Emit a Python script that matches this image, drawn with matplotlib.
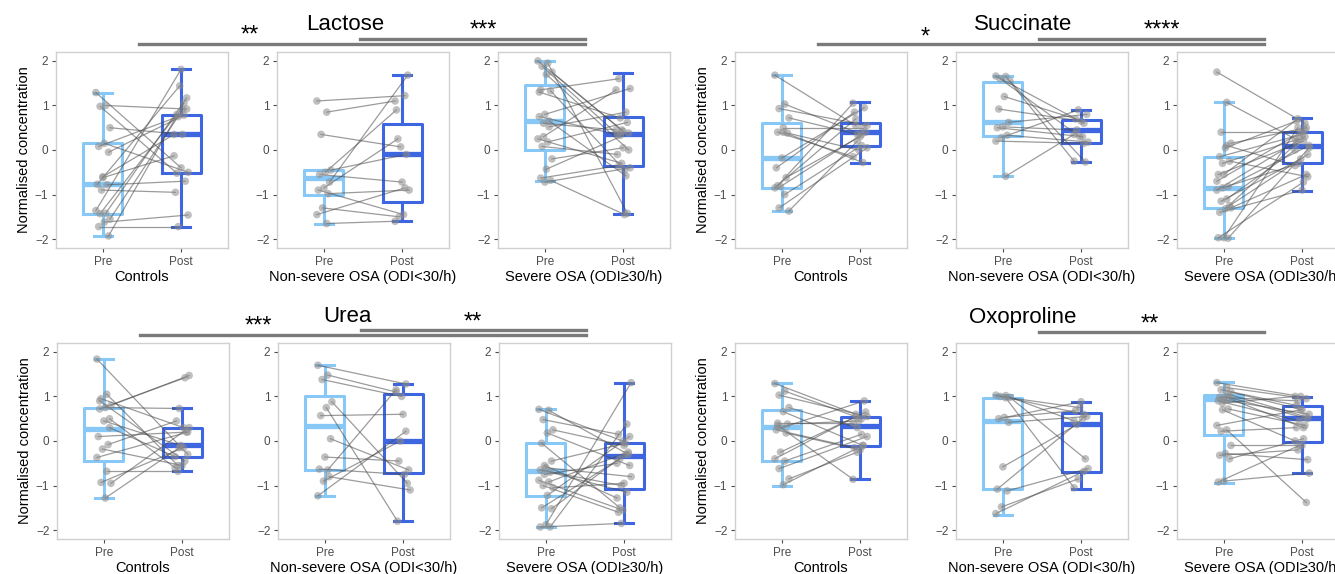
import numpy as np
import matplotlib.pyplot as plt
from matplotlib.lines import Line2D

plt.rcParams['font.family'] = ['Liberation Sans', 'DejaVu Sans']

W, H = 1335, 574

groups = ["Controls", "Non-severe OSA (ODI<30/h)", "Severe OSA (ODI≥30/h)"]
timepoints = ["Pre", "Post"]
metabolites = ["Lactose", "Succinate", "Urea", "Oxoproline"]

# paired values (pre[i] -> post[i]); box stats: [whisker low, q1, median, q3, whisker high]
lac_ctrl_pre = [1.29, 1.00, 0.98, 0.50, 0.15, 0.08, -0.05, -0.60, -0.77, -0.78, -0.90, -1.36, -1.42, -1.43, -1.55, -1.62, -1.72, -1.93, -0.62]
lac_ctrl_post = [-0.40, 0.92, -0.52, 0.35, -0.50, 0.75, 0.78, 0.35, 1.44, -0.70, -0.95, 1.81, 1.17, 0.80, 0.90, -1.46, -1.72, 1.05, -0.13]
lac_ctrl_box = [[-1.93, -1.43, -0.77, 0.15, 1.29], [-1.72, -0.51, 0.35, 0.78, 1.81]]

lac_nons_pre = [1.10, 0.85, 0.35, -0.45, -0.50, -0.55, -0.72, -0.85, -0.90, -0.98, -1.30, -1.45, -1.65]
lac_nons_post = [1.22, 1.10, 0.07, -0.10, 0.90, -0.72, 1.68, 0.25, -1.45, -0.90, -1.50, -0.85, -1.60]
lac_nons_box = [[-1.65, -1.00, -0.63, -0.45, -0.45], [-1.60, -1.16, -0.10, 0.59, 1.68]]

lac_sev_pre = [2.00, 1.95, 1.88, 1.75, 1.70, 1.35, 1.33, 0.80, 0.75, 0.52, 0.30, 0.25, 0.18, 0.08, -0.20, -0.43, -0.63, -0.68, -0.72, 1.30, 0.65, 0.60]
lac_sev_post = [0.45, -1.42, 0.35, 0.42, 0.00, 1.60, -0.45, 1.38, 0.33, 0.85, 1.35, -0.30, 0.62, -0.10, 0.05, 0.38, -0.35, -1.45, -0.40, 0.72, -0.58, 0.45]
lac_sev_box = [[-0.70, 0.00, 0.64, 1.45, 2.00], [-1.44, -0.36, 0.36, 0.75, 1.73]]

suc_ctrl_pre = [1.68, 1.03, 0.93, 0.72, 0.50, 0.40, 0.38, -0.18, -0.40, -0.62, -0.82, -0.85, -1.00, -1.30, -1.37, 0.40, -0.80]
suc_ctrl_post = [0.55, 0.35, 0.55, 0.35, 0.50, -0.15, 0.00, 0.95, 0.85, 0.30, 0.40, 0.70, 0.10, 0.05, 0.20, -0.28, 1.05]
suc_ctrl_box = [[-1.37, -0.85, -0.19, 0.60, 1.68], [-0.30, 0.10, 0.40, 0.60, 1.08]]

suc_nons_pre = [1.66, 1.65, 1.60, 1.55, 1.20, 0.92, 0.62, 0.52, 0.50, 0.33, 0.28, 0.20, -0.59]
suc_nons_post = [0.60, -0.25, 0.30, -0.27, 0.70, 0.65, 0.80, 0.45, 0.30, 0.18, 0.90, 0.15, 0.35]
suc_nons_box = [[-0.59, 0.32, 0.62, 1.53, 1.66], [-0.26, 0.15, 0.45, 0.68, 0.90]]

suc_sev_pre = [1.75, 1.07, 0.40, 0.15, 0.05, -0.15, -0.25, -0.55, -0.55, -0.82, -0.85, -0.90, -1.10, -1.15, -1.30, -1.32, -1.40, -1.25, -1.97, -1.97, -1.98, -0.30, -0.70, 0.10]
suc_sev_post = [0.60, 0.25, 0.40, 0.50, 0.65, 0.35, -0.60, 0.70, 0.20, 0.10, -0.30, 0.30, 0.00, -0.20, -0.55, 0.15, -0.90, -0.10, 0.50, -0.72, 0.05, 0.25, 0.45, -0.35]
suc_sev_box = [[-1.98, -1.31, -0.86, -0.16, 1.08], [-0.93, -0.30, 0.10, 0.40, 0.71]]

urea_ctrl_pre = [1.84, 1.05, 0.95, 0.80, 0.75, 0.72, 0.50, 0.45, 0.10, -0.08, -0.18, -0.37, -0.68, -0.93, -0.95, -1.28, 0.90, 0.30]
urea_ctrl_post = [-0.30, -0.55, 0.30, 1.47, 0.73, 1.42, -0.60, -0.10, 0.20, 0.45, -0.55, 0.20, -0.68, -0.15, 0.30, -0.15, -0.45, -0.35]
urea_ctrl_box = [[-1.28, -0.46, 0.28, 0.75, 1.84], [-0.68, -0.36, -0.09, 0.30, 0.73]]

urea_nons_pre = [1.70, 1.48, 1.38, 0.88, 0.75, 0.57, 0.05, -0.36, -0.63, -0.80, -0.90, -1.23, -0.65]
urea_nons_post = [1.28, 1.10, 1.00, -0.95, -1.80, 0.60, -0.65, -0.45, -0.75, -1.10, 0.00, 0.22, 1.15]
urea_nons_box = [[-1.23, -0.66, 0.33, 1.01, 1.70], [-1.80, -0.71, -0.01, 1.05, 1.29]]

urea_sev_pre = [0.71, 0.69, 0.48, 0.25, 0.18, -0.05, -0.45, -0.60, -0.65, -0.70, -0.75, -0.88, -0.92, -1.00, -1.05, -1.22, -1.50, -1.52, -1.88, -1.93, -1.93, -0.55]
urea_sev_post = [0.00, -0.30, 0.15, -0.10, -0.55, -1.50, -0.05, -0.80, -1.00, -1.15, -0.50, -1.55, -0.25, -1.60, -0.95, 0.10, -0.40, -0.30, 1.31, -1.85, 0.38, -1.28]
urea_sev_box = [[-1.93, -1.24, -0.68, -0.05, 0.71], [-1.85, -1.07, -0.33, -0.05, 1.31]]

oxo_ctrl_pre = [1.29, 1.12, 1.03, 0.75, 0.66, 0.40, 0.38, 0.30, 0.25, 0.18, -0.25, -0.40, -0.45, -0.62, -0.85, -0.98, 0.35]
oxo_ctrl_post = [0.60, 0.50, 0.55, 0.30, -0.10, 0.40, 0.45, 0.90, -0.15, -0.20, 0.65, 0.55, 0.15, 0.10, -0.25, -0.10, -0.86]
oxo_ctrl_box = [[-1.00, -0.45, 0.31, 0.69, 1.31], [-0.86, -0.11, 0.34, 0.53, 0.90]]

oxo_nons_pre = [1.03, 1.02, 1.00, 0.98, 0.53, 0.50, 0.42, -0.58, -1.08, -1.12, -1.48, -1.63, 0.97]
oxo_nons_post = [0.60, 0.45, 0.75, -0.40, 0.68, 0.88, 0.55, 0.37, 0.50, -0.62, -0.85, -0.68, -1.05]
oxo_nons_box = [[-1.65, -1.08, 0.45, 0.96, 1.04], [-1.08, -0.69, 0.38, 0.63, 0.88]]

oxo_sev_pre = [1.31, 1.20, 1.15, 1.10, 1.00, 0.98, 0.95, 0.92, 0.90, 0.72, 0.70, 0.35, 0.25, 0.22, -0.10, -0.28, -0.32, -0.40, -0.90, -0.92, 1.05, 0.85]
oxo_sev_post = [1.00, 0.95, 0.80, 0.70, 0.50, 0.90, 0.30, 0.60, 0.45, 0.35, 0.00, 0.70, -1.38, 0.30, -0.10, -0.42, -0.20, 0.05, -0.72, -0.10, 0.55, 1.00]
oxo_sev_box = [[-0.95, 0.13, 0.95, 1.04, 1.33], [-0.72, -0.03, 0.51, 0.79, 0.99]]

panels = {
    "Lactose": [(lac_ctrl_pre, lac_ctrl_post, lac_ctrl_box),
                (lac_nons_pre, lac_nons_post, lac_nons_box),
                (lac_sev_pre, lac_sev_post, lac_sev_box)],
    "Succinate": [(suc_ctrl_pre, suc_ctrl_post, suc_ctrl_box),
                  (suc_nons_pre, suc_nons_post, suc_nons_box),
                  (suc_sev_pre, suc_sev_post, suc_sev_box)],
    "Urea": [(urea_ctrl_pre, urea_ctrl_post, urea_ctrl_box),
             (urea_nons_pre, urea_nons_post, urea_nons_box),
             (urea_sev_pre, urea_sev_post, urea_sev_box)],
    "Oxoproline": [(oxo_ctrl_pre, oxo_ctrl_post, oxo_ctrl_box),
                   (oxo_nons_pre, oxo_nons_post, oxo_nons_box),
                   (oxo_sev_pre, oxo_sev_post, oxo_sev_box)],
}

# significance: (label, from group, to group)
significance = {
    "Lactose": [("**", 0, 2), ("***", 1, 2)],
    "Succinate": [("*", 0, 2), ("****", 1, 2)],
    "Urea": [("***", 0, 2), ("**", 1, 2)],
    "Oxoproline": [("**", 1, 2)],
}

PRE_COL = "#87C8F7"
POST_COL = "#3E66E0"

# layout in pixels
block_left = {"Lactose": 56, "Succinate": 735, "Urea": 57, "Oxoproline": 735}
block_top = {"Lactose": 52, "Succinate": 52, "Urea": 343, "Oxoproline": 343}
panel_w, panel_h, panel_step = 172, 196, 221
title_pos = {"Lactose": (345, 25), "Succinate": (1023, 25), "Urea": (347, 317), "Oxoproline": (1023, 317)}
# (bar y, label x, label y) per significance entry
sig_pos = {
    "Lactose": [(44, 250, 36), (39, 483, 31)],
    "Succinate": [(44, 925, 38), (39, 1162, 31)],
    "Urea": [(335, 258, 327), (330, 473, 323)],
    "Oxoproline": [(332, 1150, 325)],
}


def px(x, y):
    return x / W, 1 - y / H


def jitter(n, spread=0.09):
    idx = np.arange(n)
    return ((idx * 7) % 11 - 5) / 5 * spread


def draw_panel(ax, pre, post, box, group, show_ylabel):
    for k, (stats, col) in enumerate(zip(box, [PRE_COL, POST_COL])):
        s = dict(whislo=stats[0], q1=stats[1], med=stats[2], q3=stats[3], whishi=stats[4])
        ax.bxp([s], positions=[k + 1], widths=0.5, capwidths=0.22, showfliers=False,
               boxprops=dict(color=col, lw=2.2),
               medianprops=dict(color=col, lw=3.8),
               whiskerprops=dict(color=col, lw=2.2),
               capprops=dict(color=col, lw=2.2),
               manage_ticks=False, zorder=2)

    pre = np.asarray(pre)
    post = np.asarray(post)
    xj1 = 1 + jitter(len(pre))
    xj2 = 2 + jitter(len(post))[::-1]
    for a, b, ya, yb in zip(xj1, xj2, pre, post):
        ax.plot([a, b], [ya, yb], color="#4a4a4a", alpha=0.55, lw=0.9, zorder=3)
    ax.scatter(xj1, pre, s=30, color="#8c8c8c", alpha=0.55, edgecolors="none", zorder=4)
    ax.scatter(xj2, post, s=30, color="#8c8c8c", alpha=0.55, edgecolors="none", zorder=4)

    ax.set_xlim(0.4, 2.6)
    ax.set_ylim(-2.2, 2.2)
    ax.set_xticks([1, 2])
    ax.set_xticklabels(timepoints)
    ax.set_yticks([-2, -1, 0, 1, 2])
    ax.tick_params(labelsize=8.5, colors="#4d4d4d", length=3, width=0.8, pad=2.5)
    for sp in ax.spines.values():
        sp.set_color("#d0d0d0")
        sp.set_linewidth(1.0)
    ax.set_xlabel(group, fontsize=10.5, labelpad=2)
    if show_ylabel:
        ax.set_ylabel("Normalised concentration", fontsize=10.5, labelpad=3)


fig = plt.figure(figsize=(W / 100, H / 100), dpi=100)

for met in metabolites:
    centers = []
    for g in range(3):
        left = block_left[met] + g * panel_step
        top = block_top[met]
        ax = fig.add_axes([left / W, 1 - (top + panel_h) / H, panel_w / W, panel_h / H])
        pre, post, box = panels[met][g]
        draw_panel(ax, pre, post, box, groups[g], g == 0)
        centers.append(left + panel_w / 2)

    tx, ty = title_pos[met]
    fig.text(*px(tx, ty), met, fontsize=16, ha="center", va="center")

    for (label, g1, g2), (by, lx, ly) in zip(significance[met], sig_pos[met]):
        x1, y1 = px(centers[g1] - 3, by)
        x2, _ = px(centers[g2] + 1, by)
        fig.add_artist(Line2D([x1, x2], [y1, y1], color="#7a7a7a", lw=2.4))
        fig.text(*px(lx, ly), label, fontsize=17, ha="center", va="center")

fig.savefig("out.png", dpi=100)
